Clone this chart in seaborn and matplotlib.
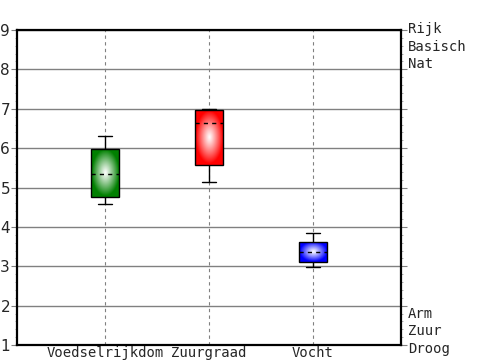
import numpy as np
import pandas as pd
import seaborn as sns
import matplotlib
matplotlib.use("Agg")
import matplotlib.pyplot as plt
from matplotlib.ticker import AutoMinorLocator, MultipleLocator
from matplotlib.colors import to_rgb

categories = ["Voedselrijkdom", "Zuurgraad", "Vocht"]
whisker_low = [4.58, 5.14, 2.98]
q1 = [4.76, 5.57, 3.11]
middle = [5.35, 6.64, 3.37]
q3 = [5.98, 6.97, 3.62]
whisker_high = [6.31, 7.00, 3.85]
colors = ["#008000", "#ff0000", "#0000ff"]
top_labels = ["Rijk", "Basisch", "Nat"]
bottom_labels = ["Arm", "Zuur", "Droog"]

rows = []
for i, c in enumerate(categories):
    for v in (whisker_low[i], q1[i], middle[i], q3[i], whisker_high[i]):
        rows.append({"cat": c, "val": v})
df = pd.DataFrame(rows)

sns.set_style("white")
fig = plt.figure(figsize=(5, 3.6), dpi=100)
ax = fig.add_axes([17/500, 1-345/360, (401-17)/500, (345-30)/360])

sns.boxplot(data=df, x="cat", y="val", hue="cat", palette=colors, legend=False,
            whis=(0, 100), width=0.27, linecolor="black", linewidth=1,
            medianprops=dict(linestyle=(0, (3, 3)), linewidth=1),
            ax=ax, zorder=3)

ax.set_xlim(-0.846, 2.846)
ax.set_ylim(1, 9)
ax.yaxis.set_major_locator(MultipleLocator(1))
ax.yaxis.set_minor_locator(AutoMinorLocator(5))
ax.set_xlabel("")
ax.set_ylabel("")

# gradient fill inside each box
n = 120
yy, xx = np.mgrid[-1:1:n*1j, -1:1:n*1j]
rr = np.clip(np.sqrt(xx**2 + yy**2) * 1.05, 0, 1) ** 1.1
for patch, col in zip(ax.patches, colors):
    ext = patch.get_path().get_extents()
    rgb = np.array(to_rgb(col))
    img = (1 - rr)[..., None] * np.ones(3) + rr[..., None] * rgb
    im = ax.imshow(img, extent=[ext.x0, ext.x1, ext.y0, ext.y1], aspect="auto",
                   origin="lower", zorder=patch.get_zorder() + 0.01, interpolation="bilinear")
    im.set_clip_path(patch)
    patch.set_facecolor("none")
    patch.set_zorder(patch.get_zorder() + 0.02)
for line in ax.lines:
    line.set_zorder(5)
ax.set_xlim(-0.846, 2.846)
ax.set_ylim(1, 9)

ax.set_axisbelow(True)
ax.grid(axis="y", color="#808080", linestyle="-", linewidth=1)
ax.grid(axis="x", color="#808080", linestyle=(0, (3, 3)), linewidth=0.8)

for s in ax.spines.values():
    s.set_visible(True)
    s.set_color("black")
    s.set_linewidth(1.6)

ax.tick_params(axis="x", length=0, pad=1, labelsize=10)
for lab in ax.get_xticklabels():
    lab.set_family("DejaVu Sans Mono")
ax.tick_params(axis="y", which="major", left=True, right=True, length=4,
               color="#808080", labelsize=11, pad=1, direction="out")
ax.tick_params(axis="y", which="minor", left=True, right=True, length=1.5,
               color="#a0a0a0", width=0.6, direction="out")

ax.annotate("\n".join(top_labels), xy=(1, 9), xycoords=("axes fraction", "data"),
            xytext=(7, 8), textcoords="offset pixels", va="top", ha="left",
            family="DejaVu Sans Mono", fontsize=10, linespacing=1.32, annotation_clip=False)
ax.annotate("\n".join(bottom_labels), xy=(1, 1), xycoords=("axes fraction", "data"),
            xytext=(7, -11), textcoords="offset pixels", va="bottom", ha="left",
            family="DejaVu Sans Mono", fontsize=10, linespacing=1.32, annotation_clip=False)

fig.savefig("out.png", dpi=100)
